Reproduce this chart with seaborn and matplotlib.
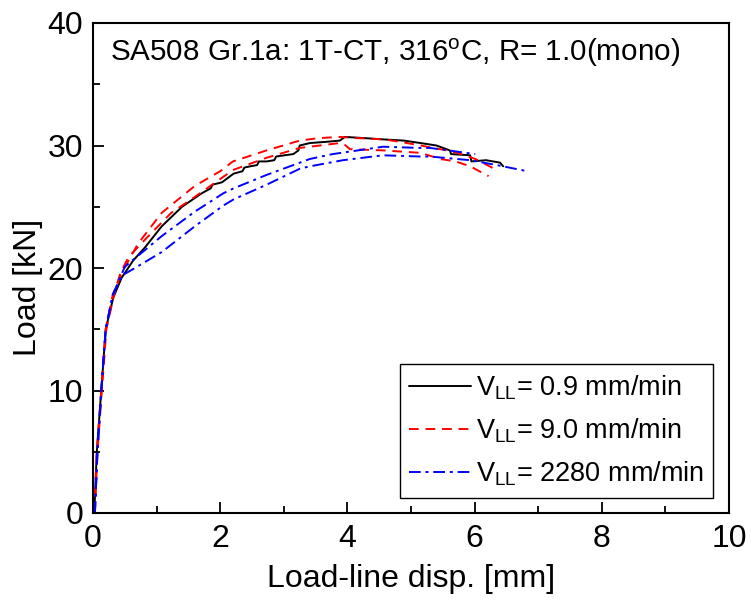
import matplotlib
matplotlib.use("Agg")
import matplotlib.pyplot as plt
import seaborn as sns
import pandas as pd
from matplotlib.ticker import MultipleLocator

# ---- data ----
x_09 = [0.02, 0.06, 0.13, 0.20, 0.32, 0.45, 0.63, 0.82, 1.08, 1.40, 1.71, 1.85, 1.88, 2.03, 2.21,
        2.35, 2.38, 2.47, 2.58, 2.61, 2.73, 2.85, 2.88, 3.01, 3.15, 3.23, 3.25, 3.41, 3.67, 3.88,
        3.96, 4.28, 4.56, 4.89, 5.15, 5.40, 5.61, 5.63, 5.93, 5.95, 6.18, 6.40, 6.45]
y_09 = [0.0, 5.0, 10.0, 15.0, 17.6, 19.2, 20.6, 21.7, 23.4, 25.0, 26.1, 26.5, 26.8, 27.0, 27.7,
        27.9, 28.2, 28.3, 28.4, 28.7, 28.7, 28.8, 29.1, 29.2, 29.3, 29.6, 30.0, 30.2, 30.3, 30.4,
        30.7, 30.6, 30.5, 30.4, 30.2, 30.0, 29.6, 29.3, 29.2, 28.7, 28.8, 28.6, 28.3]

x_90a = [0.02, 0.06, 0.13, 0.20, 0.31, 0.45, 0.71, 1.08, 1.60, 2.00, 2.20, 2.73, 3.25, 3.54,
         3.88, 4.18, 4.56, 4.83, 5.15, 5.56, 5.73, 6.01, 6.31]
y_90a = [0.0, 5.0, 10.0, 15.0, 17.8, 19.6, 22.0, 24.5, 26.7, 27.9, 28.7, 29.6, 30.4, 30.6,
         30.7, 30.6, 30.5, 30.3, 30.0, 29.6, 29.4, 28.9, 28.1]

x_90b = [0.03, 0.07, 0.14, 0.21, 0.33, 0.43, 0.56, 0.87, 1.23, 1.60, 2.20, 2.73, 3.25, 3.88,
         3.95, 4.04, 4.56, 5.15, 5.46, 5.70, 5.93, 6.22]
y_90b = [0.0, 5.0, 10.0, 15.0, 17.8, 19.6, 20.9, 22.6, 24.5, 25.8, 28.0, 29.0, 29.8, 30.2,
         30.1, 29.7, 29.6, 29.4, 28.9, 28.7, 28.3, 27.5]

x_2280a = [0.03, 0.07, 0.13, 0.20, 0.31, 0.50, 1.08, 1.60, 2.05, 2.21, 2.73, 3.41, 3.77, 4.56,
           5.15, 5.30, 5.73, 6.01]
y_2280a = [0.0, 5.0, 10.0, 15.0, 17.8, 20.1, 22.6, 24.6, 26.1, 26.5, 27.6, 28.9, 29.3, 29.9,
           29.8, 29.8, 29.5, 29.3]

x_2280b = [0.03, 0.07, 0.13, 0.20, 0.31, 0.46, 0.66, 1.08, 1.60, 2.05, 2.21, 2.73, 3.25, 3.41,
           3.93, 4.56, 5.15, 5.30, 5.93, 6.35, 6.83]
y_2280b = [0.0, 5.0, 10.0, 15.0, 17.8, 19.4, 20.0, 21.3, 23.4, 25.1, 25.6, 26.8, 28.1, 28.3,
           28.8, 29.2, 29.1, 29.1, 28.8, 28.4, 27.9]

labels = [r"V$_{\rm LL}$= 0.9 mm/min", r"V$_{\rm LL}$= 9.0 mm/min", r"V$_{\rm LL}$= 2280 mm/min"]
title_text = r"SA508 Gr.1a: 1T-CT, 316$^{\rm o}$C, R= 1.0(mono)"

# ---- style ----
sns.set_style("ticks")
plt.rcParams["font.family"] = ["Liberation Sans", "DejaVu Sans"]
plt.rcParams["mathtext.fontset"] = "custom"
plt.rcParams["mathtext.rm"] = "Liberation Sans"
plt.rcParams["mathtext.it"] = "Liberation Sans:italic"
plt.rcParams["mathtext.bf"] = "Liberation Sans:bold"
for k in ["text.color", "axes.labelcolor", "xtick.color", "ytick.color", "axes.edgecolor"]:
    plt.rcParams[k] = "black"

fig = plt.figure(figsize=(7.51, 6.08), dpi=100)
ax = fig.add_axes([93 / 751, 1 - 513 / 608, (729 - 93) / 751, (513 - 23) / 608])

curves = [
    (x_09, y_09, "black", "-", labels[0]),
    (x_90a, y_90a, "red", (0, (5, 3.5)), labels[1]),
    (x_90b, y_90b, "red", (0, (5, 3.5)), None),
    (x_2280a, y_2280a, "blue", (0, (6, 2.5, 1.5, 2.5)), labels[2]),
    (x_2280b, y_2280b, "blue", (0, (6, 2.5, 1.5, 2.5)), None),
]
for xs, ys, c, ls, lab in curves:
    df = pd.DataFrame({"x": xs, "y": ys})
    sns.lineplot(data=df, x="x", y="y", ax=ax, color=c, linestyle=ls, linewidth=1.4,
                 sort=False, estimator=None, label=lab, legend=bool(lab))

ax.set_xlim(0, 10)
ax.set_ylim(0, 40)
ax.xaxis.set_major_locator(MultipleLocator(2))
ax.xaxis.set_minor_locator(MultipleLocator(1))
ax.yaxis.set_major_locator(MultipleLocator(10))
ax.yaxis.set_minor_locator(MultipleLocator(5))
ax.tick_params(which="major", direction="in", length=8, width=1.3, labelsize=23, pad=8)
ax.tick_params(axis="y", which="major", pad=7)
ax.tick_params(which="minor", direction="in", length=5, width=1.3)
for s in ax.spines.values():
    s.set_linewidth(1.5)
    s.set_visible(True)
    s.set_color("black")

ax.set_xlabel("Load-line disp. [mm]", fontsize=23, labelpad=7)
ax.set_ylabel("Load [kN]", fontsize=23, labelpad=8)
ax.yaxis.set_label_coords(-0.078, 0.46)

ax.text(0.027, 0.972, title_text, transform=ax.transAxes, fontsize=21.3,
        ha="left", va="top")

leg = ax.legend(loc="lower right", bbox_to_anchor=(0.975, 0.031), fontsize=19.5,
                frameon=True, fancybox=False, edgecolor="black", framealpha=1,
                handlelength=2.3, handletextpad=0.15, borderpad=0.35, labelspacing=0.55,
                borderaxespad=0)
leg.get_frame().set_linewidth(1.0)

fig.savefig("out.png", dpi=100)
